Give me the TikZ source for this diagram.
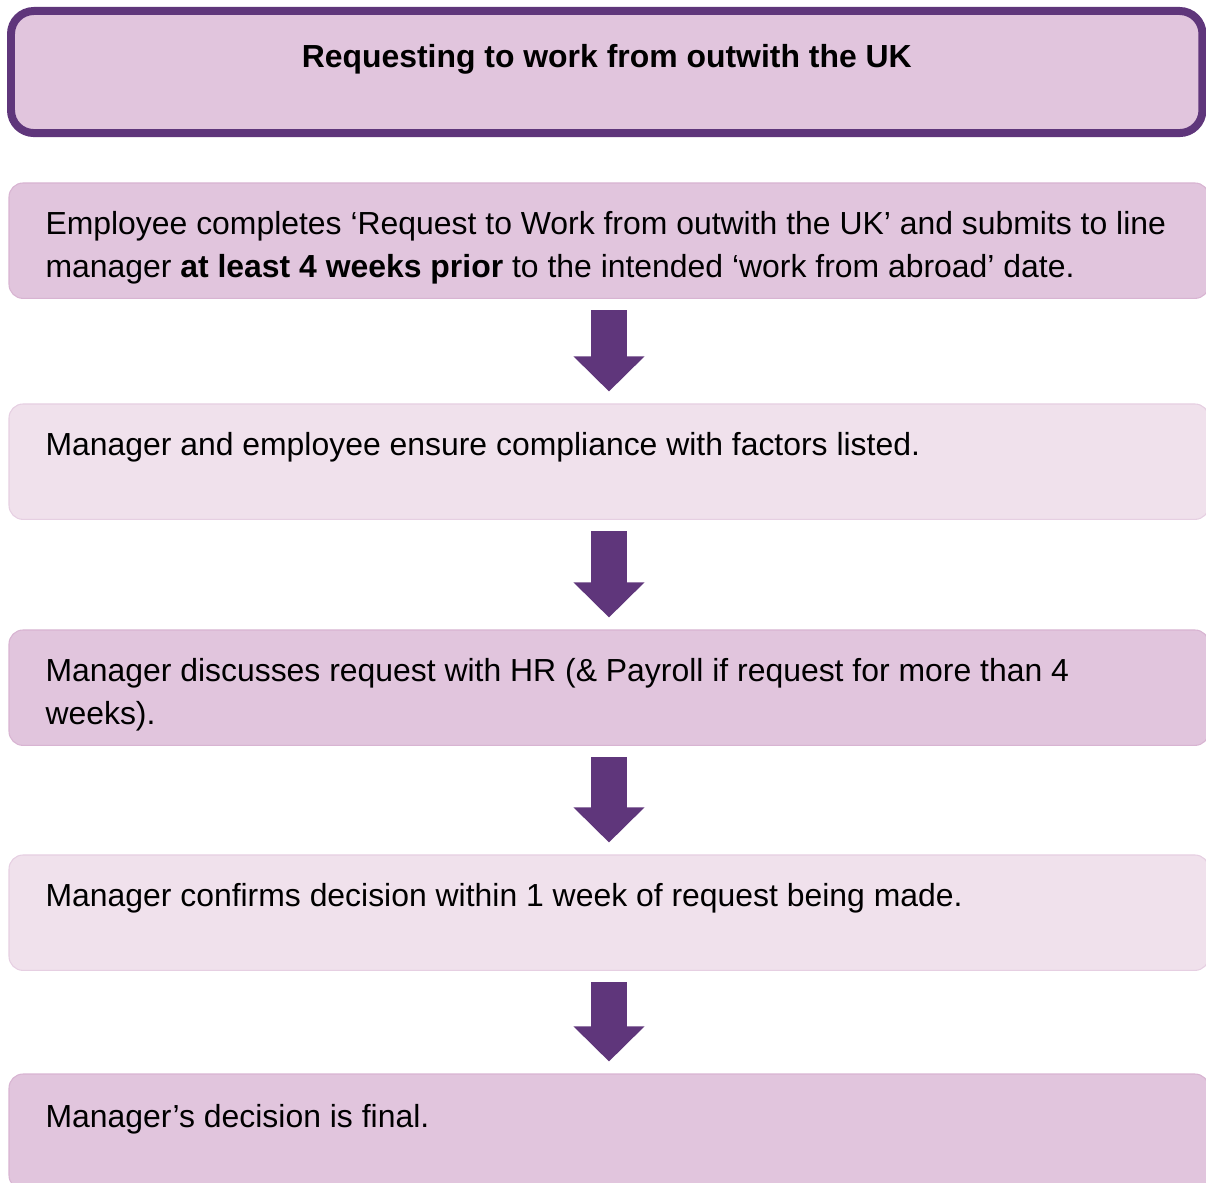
\documentclass[tikz,border=0pt]{standalone}
\usepackage{fontspec}
\setmainfont{Liberation Sans}
\usepackage{xcolor}
\usepackage{tikz}
\usetikzlibrary{positioning,arrows.meta}
\definecolor{wfpurple}{HTML}{5F367B}
\definecolor{wfpink}{HTML}{E1C5DD}
\definecolor{wfpinkline}{HTML}{D8B4D2}
\definecolor{wflight}{HTML}{F0E1EC}
\definecolor{wflightline}{HTML}{E6CFE2}

\begin{document}
\begin{tikzpicture}[
  x=0.376pt, y=-0.376pt,
  font=\fontsize{12pt}{16.17pt}\selectfont,
  head/.style={draw=wfpurple, line width=3pt, fill=wfpink, rounded corners=8.6pt,
    minimum width=448pt, minimum height=45.9pt, anchor=north west, inner sep=0pt,
    outer sep=0pt},
  stepbox/.style={draw=wfpinkline, line width=0.4pt, fill=wfpink, rounded corners=5.3pt,
    minimum width=451.2pt, minimum height=43.4pt, anchor=north west, inner sep=0pt,
    outer sep=0pt},
  lightbox/.style={stepbox, draw=wflightline, fill=wflight},
  txt/.style={anchor=base west, align=left, inner sep=0pt},
  flow/.style={draw=wfpurple, line width=13.2pt,
    -{Triangle[length=13.2pt, width=25.9pt]}, shorten <=4.5pt, shorten >=4.7pt},
  ]
  \clip (0,0) rectangle (1206,1183);
  \useasboundingbox (0,0) rectangle (1206,1183);

  % heading
  \node[head] (title) at (11,11) {};
  \node[txt, anchor=base, font=\fontsize{12pt}{16.17pt}\selectfont\bfseries]
    (ttl) at ([yshift=-57*0.376pt]title.north) {Requesting to work from outwith the UK};

  % the five steps
  \node[stepbox] (b1) at (9,183) {};
  \node[lightbox] (b2) at (9,404) {};
  \node[stepbox] (b3) at (9,630) {};
  \node[lightbox] (b4) at (9,855) {};
  \node[stepbox] (b5) at (9,1074) {};

  % two-line texts sit on the baseline of their last line
  \node[txt] (t1) at ([shift={(36,95)}]b1.north west)
    {Employee completes ‘Request to Work from outwith the UK’ and submits to line\\
     manager \textbf{at least 4 weeks prior} to the intended ‘work from abroad’ date.};
  \node[txt] (t2) at ([shift={(36,52)}]b2.north west)
    {Manager and employee ensure compliance with factors listed.};
  \node[txt] (t3) at ([shift={(36,95)}]b3.north west)
    {Manager discusses request with HR (\& Payroll if request for more than 4\\
     weeks).};
  \node[txt] (t4) at ([shift={(36,52)}]b4.north west)
    {Manager confirms decision within 1 week of request being made.};
  \node[txt] (t5) at ([shift={(36,53)}]b5.north west)
    {Manager’s decision is final.};

  \draw[flow] (b1.south) -- (b2.north);
  \draw[flow] (b2.south) -- (b3.north);
  \draw[flow] (b3.south) -- (b4.north);
  \draw[flow] (b4.south) -- (b5.north);
\end{tikzpicture}
\end{document}
